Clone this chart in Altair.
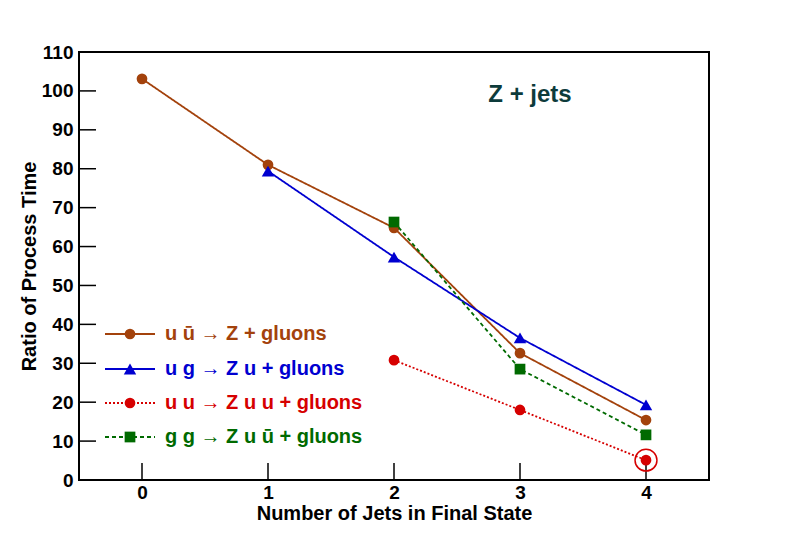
import altair as alt
import pandas as pd

# ---- data ----
series_names = ["uubar", "ug", "uu", "gg"]
labels = ["u ū → Z + gluons", "u g → Z u + gluons", "u u → Z u u + gluons", "g g → Z u ū + gluons"]
colors = ["#a3420c", "#0000d0", "#d60000", "#006a00"]
dashes = [[1, 0], [1, 0], [2, 2], [4, 3]]
shapes = ["circle", "triangle-up", "circle", "square"]

jets_uubar = [0, 1, 2, 3, 4]
ratio_uubar = [103.1, 81.0, 64.8, 32.6, 15.4]
jets_ug = [1, 2, 3, 4]
ratio_ug = [79.4, 57.3, 36.5, 19.3]
jets_uu = [2, 3, 4]
ratio_uu = [30.8, 18.0, 5.1]
jets_gg = [2, 3, 4]
ratio_gg = [66.3, 28.5, 11.6]

x_ticks = [0, 1, 2, 3, 4]
y_ticks = [0, 10, 20, 30, 40, 50, 60, 70, 80, 90, 100, 110]

jets = [jets_uubar, jets_ug, jets_uu, jets_gg]
ratios = [ratio_uubar, ratio_ug, ratio_uu, ratio_gg]

FONT = "Liberation Sans"
W, H = 630, 428
TICK = 17

xscale = alt.Scale(domain=[-0.5, 4.5], nice=False, zero=False)
yscale = alt.Scale(domain=[0, 110], nice=False)

xaxis = alt.Axis(values=x_ticks, title="Number of Jets in Final State", format="d",
                 labelPadding=3, titlePadding=1)
yaxis = alt.Axis(values=y_ticks, title="Ratio of Process Time", format="d",
                 labelPadding=6, titlePadding=2)


def X(field):
    return alt.X(field, scale=xscale, axis=xaxis)


def Y(field):
    return alt.Y(field, scale=yscale, axis=yaxis)


layers = []

# inward ticks
xt = alt.Chart(pd.DataFrame({"v": x_ticks})).mark_rule(color="black", strokeWidth=1.5).encode(
    x=X("v:Q"), y=alt.value(H), y2=alt.value(H - TICK))
yt = alt.Chart(pd.DataFrame({"v": y_ticks[1:-1]})).mark_rule(color="black", strokeWidth=1.5).encode(
    y=Y("v:Q"), x=alt.value(0), x2=alt.value(TICK))
layers += [xt, yt]

for i in range(4):
    df = pd.DataFrame({"jets": jets[i], "ratio": ratios[i]})
    base = alt.Chart(df)
    line = base.mark_line(color=colors[i], strokeWidth=1.8, strokeDash=dashes[i]).encode(
        x=X("jets:Q"), y=Y("ratio:Q"))
    pts = base.mark_point(shape=shapes[i], filled=True, color=colors[i], opacity=1,
                          size=115 if shapes[i] != "triangle-up" else 155).encode(
        x=X("jets:Q"), y=Y("ratio:Q"))
    layers += [line, pts]

# ring highlighting the last u u point
ring_df = pd.DataFrame({"jets": [jets_uu[-1]], "ratio": [ratio_uu[-1]]})
ring = alt.Chart(ring_df).mark_point(shape="circle", filled=False, color=colors[2],
                                     size=480, strokeWidth=1.5, opacity=1).encode(
    x=X("jets:Q"), y=Y("ratio:Q"))
layers.append(ring)

# frame
frame = alt.Chart(pd.DataFrame({"a": [0]})).mark_rect(fill=None, stroke="black", strokeWidth=2).encode(
    x=alt.value(0), x2=alt.value(W), y=alt.value(0), y2=alt.value(H))
layers.append(frame)

# custom legend
leg_y = [282, 317, 351, 385]
for i in range(4):
    d = pd.DataFrame({"label": [labels[i]]})
    lb = alt.Chart(d)
    layers.append(lb.mark_rule(color=colors[i], strokeWidth=1.8, strokeDash=dashes[i]).encode(
        x=alt.value(26), x2=alt.value(76), y=alt.value(leg_y[i])))
    layers.append(lb.mark_point(shape=shapes[i], filled=True, color=colors[i], opacity=1,
                                size=115 if shapes[i] != "triangle-up" else 155).encode(
        x=alt.value(51), y=alt.value(leg_y[i])))
    layers.append(lb.mark_text(align="left", baseline="middle", font=FONT, fontWeight="bold",
                               fontSize=20, color=colors[i]).encode(
        x=alt.value(86), y=alt.value(leg_y[i]), text="label:N"))

title = alt.Chart(pd.DataFrame({"t": ["Z + jets"]})).mark_text(
    align="center", baseline="middle", font=FONT, fontWeight="bold", fontSize=24,
    color="#0d3b3b").encode(x=alt.value(451), y=alt.value(43), text="t:N")
layers.append(title)

chart = alt.layer(*layers).properties(
    width=W, height=H,
    autosize=alt.AutoSizeParams(type="none"),
    padding={"left": 71, "top": 44, "right": 70, "bottom": 46},
).configure_view(stroke=None).configure_axis(
    grid=False, ticks=False, domain=False, labelOverlap=False,
    labelFont=FONT, labelFontSize=19, labelFontWeight="bold", labelColor="black",
    titleFont=FONT, titleFontSize=20, titleFontWeight="bold", titleColor="black",
)

chart.save("out.html", embed_options={"renderer": "svg", "actions": False})
